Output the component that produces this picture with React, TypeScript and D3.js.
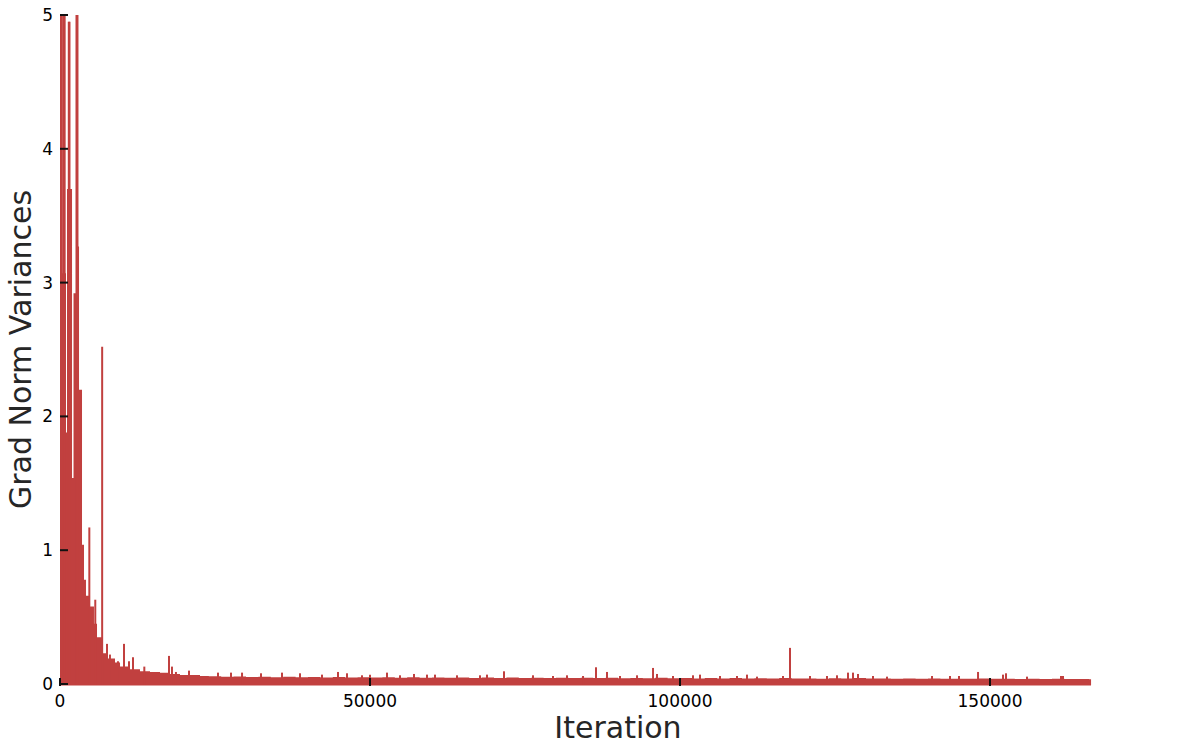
import React from 'react'
import * as d3 from 'd3'

// x ticks / y ticks
const xTicks = [0, 50000, 100000, 150000]
const yTicks = [0, 1, 2, 3, 4, 5]

// upper edge of the dense band (step-after), iteration -> variance
const bandIters = [
  0, 970, 1130, 1940, 2180, 2740, 3070, 3550, 3870, 4190, 4840, 5480,
  5970, 6930, 7580, 8870, 9680, 11290, 12900, 14520, 16130, 17740, 19350, 22580,
  24000, 26000, 28000, 30000, 32000, 34000, 36000, 38000, 40000, 42000, 44000, 46000,
  48000, 50000, 52000, 54000, 56000, 58000, 60000, 62000, 64000, 66000, 68000, 70000,
  72000, 74000, 76000, 78000, 80000, 82000, 84000, 86000, 88000, 90000, 92000, 94000,
  96000, 98000, 100000, 102000, 104000, 106000, 108000, 110000, 112000, 114000, 116000, 118000,
  120000, 122000, 124000, 126000, 128000, 130000, 132000, 134000, 136000, 138000, 140000, 142000,
  144000, 146000, 148000, 150000, 152000, 154000, 156000, 158000, 160000, 162000, 164000, 166000,
  166300,
]
const bandTop = [
  3.07, 1.88, 3.7, 1.54, 2.92, 3.27, 2.2, 1.04, 0.78, 0.66, 0.58, 0.45,
  0.35, 0.23, 0.19, 0.16, 0.13, 0.11, 0.095, 0.09, 0.085, 0.075, 0.068, 0.06,
  0.058, 0.054, 0.056, 0.052, 0.055, 0.051, 0.054, 0.05, 0.053, 0.049, 0.052, 0.049,
  0.051, 0.048, 0.051, 0.047, 0.05, 0.047, 0.049, 0.046, 0.049, 0.045, 0.048, 0.045,
  0.049, 0.045, 0.047, 0.044, 0.046, 0.044, 0.047, 0.045, 0.046, 0.043, 0.045, 0.043,
  0.046, 0.043, 0.045, 0.042, 0.044, 0.042, 0.044, 0.042, 0.043, 0.041, 0.044, 0.041,
  0.042, 0.04, 0.043, 0.042, 0.045, 0.041, 0.042, 0.04, 0.041, 0.039, 0.041, 0.039,
  0.04, 0.039, 0.041, 0.039, 0.04, 0.038, 0.039, 0.038, 0.039, 0.037, 0.038, 0.036,
  0.034,
]

// isolated spikes sticking out of the band
const spikeIters = [
  80, 160, 300, 600, 750, 1420, 1530, 2660,
  2820, 4730, 5690, 6800, 7580, 8060, 9350, 10320,
  11130, 11770, 13600, 17580, 18060, 18700, 20810, 25480,
  27580, 29360, 32420, 35810, 38710, 42260, 44840, 46290,
  48710, 50000, 52740, 54840, 57100, 59190, 60480, 64030,
  67740, 68870, 71610, 76290, 79520, 81770, 84360, 86450,
  88230, 90320, 93070, 95650, 96290, 98870, 102100, 103230,
  106450, 109190, 110810, 112420, 116610, 117740, 120970, 123710,
  125320, 127100, 127900, 128710, 131130, 133390, 140650, 143550,
  145000, 148070, 152100, 152580, 155970, 161450, 161770,
]
const spikeValues = [
  6, 6, 6, 6, 6, 4.95, 4.95, 6,
  6, 1.17, 0.63, 2.52, 0.3, 0.22, 0.17, 0.3,
  0.17, 0.2, 0.13, 0.21, 0.13, 0.09, 0.1, 0.085,
  0.085, 0.085, 0.08, 0.085, 0.08, 0.07, 0.09, 0.08,
  0.065, 0.07, 0.085, 0.065, 0.075, 0.07, 0.07, 0.065,
  0.065, 0.07, 0.095, 0.065, 0.06, 0.065, 0.06, 0.125,
  0.09, 0.06, 0.065, 0.12, 0.075, 0.06, 0.065, 0.07,
  0.06, 0.06, 0.07, 0.055, 0.06, 0.27, 0.06, 0.06,
  0.065, 0.085, 0.085, 0.075, 0.06, 0.055, 0.06, 0.06,
  0.06, 0.09, 0.07, 0.08, 0.055, 0.06, 0.06,
]

const W = 1182
const H = 752
const RED = '#c1403f'

export default function App() {
  const x = d3.scaleLinear().domain([0, 180000]).range([60, 1176])
  const y = d3.scaleLinear().domain([0, 5]).range([684, 15])

  const band = bandIters.map((it, i) => ({ it, v: bandTop[i] }))
  const area = d3.area<{ it: number, v: number }>()
    .x(d => x(d.it))
    .y0(y(0) + 1.5)
    .y1(d => y(d.v))
    .curve(d3.curveStepAfter)

  const spikes = spikeIters.map((it, i) => ({ it, v: spikeValues[i] }))

  return (
    <svg width={W} height={H} style={{ position: 'absolute', left: 0, top: 0, background: '#fff' }}
      fontFamily="DejaVu Sans, sans-serif">
      <defs>
        <clipPath id="plot">
          <rect x={x(0)} y={y(5)} width={x(180000) - x(0)} height={y(0) - y(5) + 4} />
        </clipPath>
      </defs>
      <g clipPath="url(#plot)">
        <path d={area(band) || ''} fill={RED} />
        {spikes.map((s, i) => (
          <line key={i} x1={x(s.it)} x2={x(s.it)} y1={y(0) + 1} y2={y(s.v)}
            stroke={RED} strokeWidth={2} />
        ))}
      </g>

      {/* ticks point inward */}
      {xTicks.map(t => (
        <g key={'x' + t}>
          <line x1={x(t)} x2={x(t)} y1={y(0) + 2} y2={y(0) - 6} stroke="#111" strokeWidth={2} />
          <text x={x(t)} y={707} textAnchor="middle" fontSize={17} fill="#000">{t}</text>
        </g>
      ))}
      {yTicks.map(t => (
        <g key={'y' + t}>
          <line x1={x(0)} x2={x(0) + 8} y1={y(t)} y2={y(t)} stroke="#111" strokeWidth={2} />
          <text x={53} y={y(t)} dy="0.35em" textAnchor="end" fontSize={17} fill="#000">{t}</text>
        </g>
      ))}

      <text x={(x(0) + 1176) / 2} y={738} textAnchor="middle" fontSize={30} fill="#262626">Iteration</text>
      <text transform={`translate(31,${(y(0) + y(5)) / 2}) rotate(-90)`} textAnchor="middle"
        fontSize={30} fill="#262626">Grad Norm Variances</text>
    </svg>
  )
}
